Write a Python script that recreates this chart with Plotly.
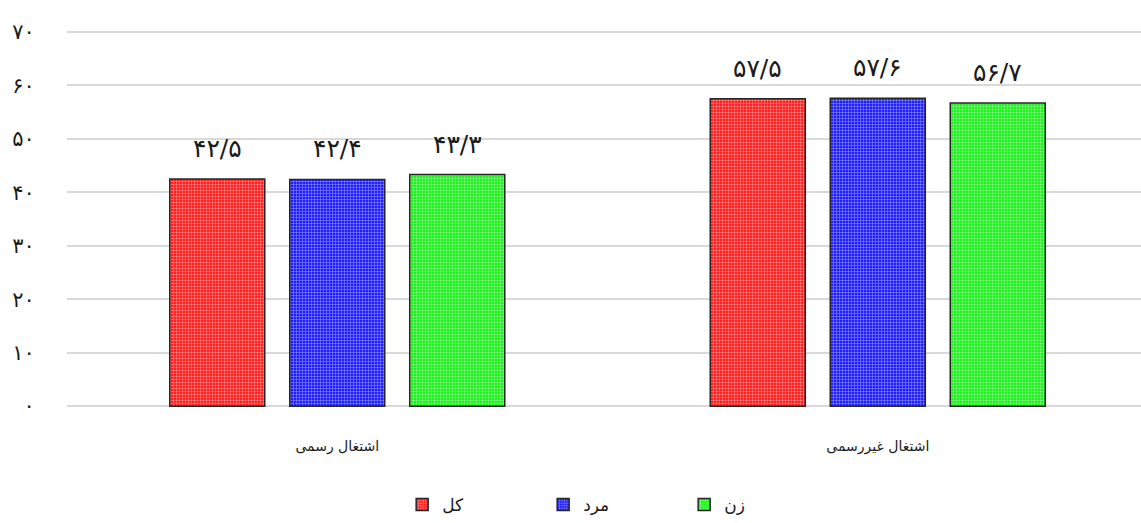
import plotly.graph_objects as go

categories = ["اشتغال رسمی", "اشتغال غیررسمی"]
series_names = ["کل", "مرد", "زن"]
values_total = [42.5, 57.5]
values_men = [42.4, 57.6]
values_women = [43.3, 56.7]
labels_total = ["۴۲/۵", "۵۷/۵"]
labels_men = ["۴۲/۴", "۵۷/۶"]
labels_women = ["۴۳/۳", "۵۶/۷"]
y_ticks = [0, 10, 20, 30, 40, 50, 60, 70]
y_tick_labels = ["۰", "۱۰", "۲۰", "۳۰", "۴۰", "۵۰", "۶۰", "۷۰"]

colors = ["#ff0000", "#0000ff", "#00ee00"]
FONT = "DejaVu Sans"
x_pos = list(range(len(categories)))

fig = go.Figure()
all_vals = [values_total, values_men, values_women]
all_labels = [labels_total, labels_men, labels_women]
for name, vals, col in zip(series_names, all_vals, colors):
    fig.add_trace(go.Bar(
        x=x_pos, y=vals, name=name,
        marker=dict(
            color=col,
            line=dict(color="#262626", width=1.5),
            pattern=dict(shape=".", size=3, solidity=0.5, fgcolor="white",
                         bgcolor=col, fillmode="overlay"),
        ),
    ))

bargap = 0.334
groupgap = 0.208
slot = (1 - bargap) / 3
offsets = [-slot, 0, slot]
annotations = []
for vals, labs, off in zip(all_vals, all_labels, offsets):
    for xi, v, t in zip(x_pos, vals, labs):
        annotations.append(dict(x=xi + off, y=v, text=t, showarrow=False,
                                yanchor="bottom", yshift=14,
                                font=dict(family=FONT, size=25, color="#1a1a1a")))

fig.update_layout(
    width=1141, height=523,
    margin=dict(l=67, r=0, t=30, b=115),
    paper_bgcolor="white", plot_bgcolor="white",
    barmode="group", bargap=bargap, bargroupgap=groupgap,
    font=dict(family=FONT, size=16, color="#1a1a1a"),
    annotations=annotations,
    legend=dict(orientation="h", x=0.509, xanchor="center", y=-0.21, yanchor="top",
                entrywidth=96, font=dict(size=17), traceorder="normal"),
    xaxis=dict(range=[-0.5, 1.487], tickvals=x_pos, ticktext=categories,
               showgrid=False, zeroline=False, showline=False,
               ticks="outside", ticklen=25, tickcolor="rgba(0,0,0,0)",
               tickfont=dict(size=14)),
    yaxis=dict(range=[-0.35, 70.35], tickvals=y_ticks, ticktext=y_tick_labels,
               showgrid=True, gridcolor="#d9d9d9", gridwidth=1.5,
               zeroline=False, showline=False,
               ticks="outside", ticklen=27, tickcolor="rgba(0,0,0,0)",
               tickfont=dict(size=21)),
)

fig.write_html("out.html", config={"displayModeBar": False},
               post_script="document.body.style.margin='0';")
